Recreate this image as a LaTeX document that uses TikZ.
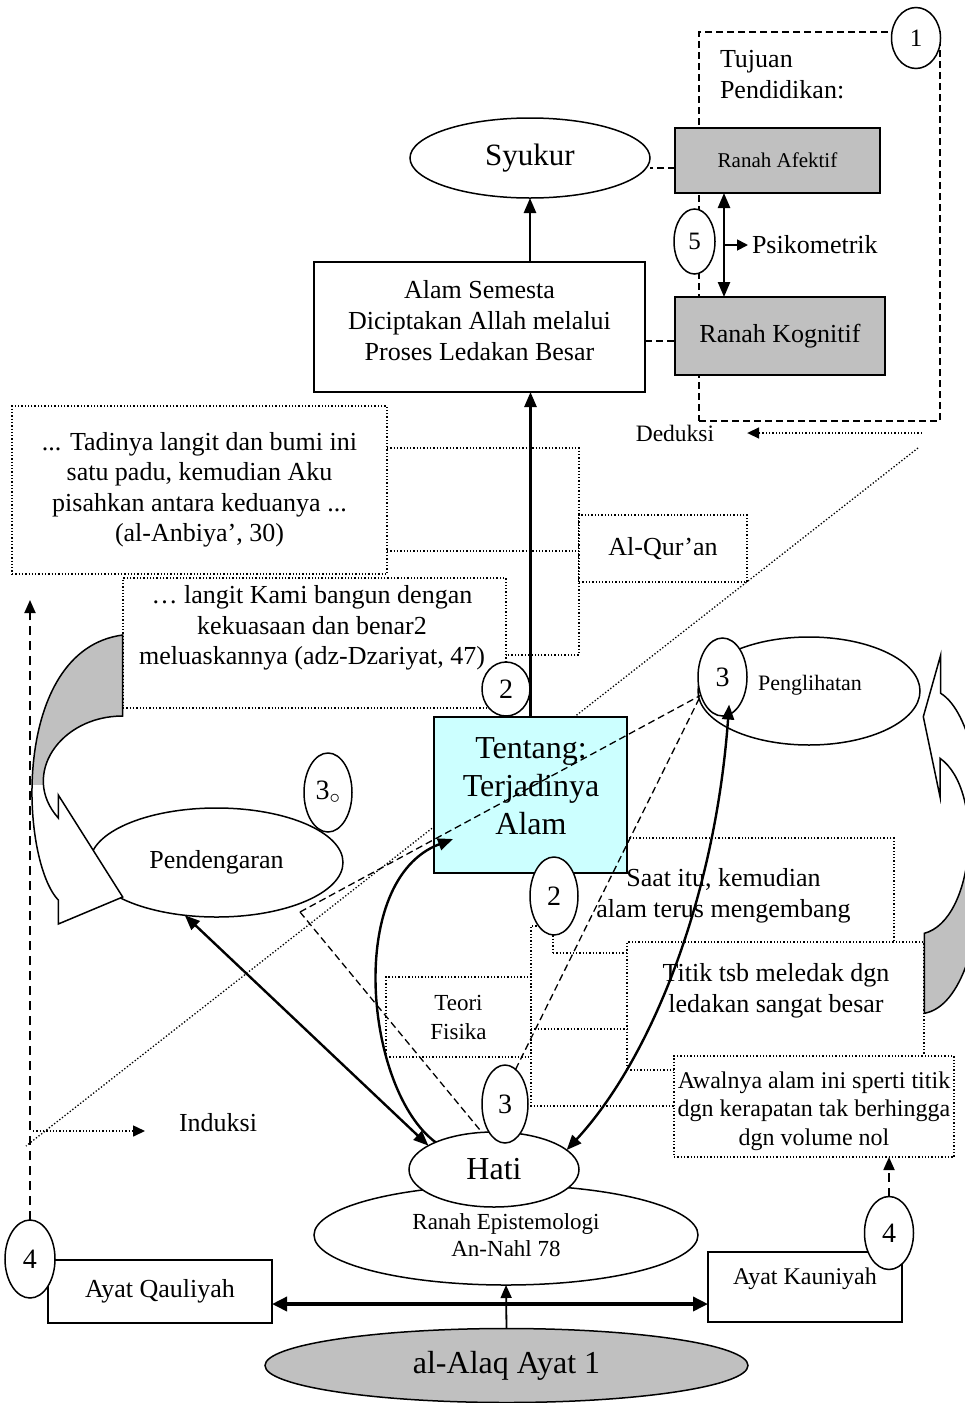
\documentclass[tikz,border=0pt]{standalone}
\usepackage{fontspec}
\setmainfont{Liberation Serif}
\usetikzlibrary{shapes.geometric,arrows.meta,calc}
\newcommand\fsz[2]{\fontsize{#1}{#2}\selectfont}
\definecolor{boxgray}{HTML}{C0C0C0}
\definecolor{lcyan}{HTML}{CCFFFF}
\begin{document}
\begin{tikzpicture}[x=1pt,y=-1pt,
  every node/.style={outer sep=0pt},
  sbox/.style={draw, line width=1.5pt, fill=white, inner sep=0pt},
  dbox/.style={draw, line width=1.3pt, dash pattern=on 1.3pt off 2pt, fill=white, inner sep=0pt, align=center},
  ell/.style={draw, ellipse, line width=1.5pt, fill=white, inner sep=0pt},
  numc/.style={ell, font=\fsz{28}{30}},
  txt/.style={inner sep=0pt, align=center},
  thickarr/.style={line width=2.6pt, -{Triangle[length=15pt,width=12pt]}},
  dblarr/.style={line width=2.4pt, {Triangle[length=15pt,width=12pt]}-{Triangle[length=15pt,width=12pt]}},
  dashln/.style={line width=1.3pt, dash pattern=on 7pt off 4pt},
  dotln/.style={line width=1.3pt, dash pattern=on 1.3pt off 2pt},
  curvearr/.style={draw, line width=1.5pt, line join=miter}
]
\useasboundingbox (0,0) rectangle (965,1403);
\clip (0,0) rectangle (965,1403);

% long diagonal dotted line
\coordinate (diagA) at (918,448);
\coordinate (diagB) at (26,1146);
\draw[dotln] (diagA) -- (diagB);

% quotation boxes
\node[dbox, minimum width=375, minimum height=168, font=\fsz{26}{30.5}] (boxA) at (199.5,490) {... Tadinya langit dan bumi ini\\satu padu, kemudian Aku\\pisahkan antara keduanya ...\\(al-Anbiya’, 30)};
\node[dbox, minimum width=383, minimum height=130] (boxB) at (314.5,643) {};
\node[txt, font=\fsz{26}{30.5}] (boxBtxt) at (312,628) {… langit Kami bangun dengan\\kekuasaan dan benar2\\meluaskannya (adz-Dzariyat, 47)};
\coordinate (bx) at (579,0);
\coordinate (q1) at (0,448);
\coordinate (q2) at (0,551);
\coordinate (q3) at (0,655);
\draw[dotln] (boxA.east |- q1) -- (bx |- q1) -- (bx |- q3) -- (boxB.east |- q3);
\draw[dotln] (boxA.east |- q2) -- (bx |- q2);
\node[dbox, minimum width=168, minimum height=67, font=\fsz{26}{30}] (quran) at (663,548.5) {Al-Qur’an};

% Tujuan frame
\node[draw, line width=1.5pt, dash pattern=on 7pt off 4pt, minimum width=241, minimum height=389, inner sep=0pt] (frame) at (819.5,226.5) {};
\node[txt, anchor=base west, font=\fsz{26}{30}] (tuj1) at (720,67) {Tujuan};
\node[txt, anchor=base west, font=\fsz{26}{30}] (tuj2) at (720,98) {Pendidikan:};
\node[numc, font=\fsz{25}{27}, minimum width=49, minimum height=61] (c1) at (916,38) {1};

\node[sbox, fill=boxgray, minimum width=205, minimum height=65, font=\fsz{21}{24}] (afektif) at (777.5,160.5) {Ranah Afektif};
\node[sbox, fill=boxgray, minimum width=210, minimum height=78, font=\fsz{26}{30}] (kognitif) at (780,336) {Ranah Kognitif};
\draw[dblarr] ([xshift=49pt]afektif.south west) -- ([xshift=49pt]kognitif.north west);
\coordinate (psk) at (724,245);
\node[txt, anchor=west, font=\fsz{26}{30}] (psiko) at (752,245) {Psikometrik};
\draw[line width=1.8pt, -{Triangle[length=11pt,width=11pt]}] (psk) -- ([xshift=-4pt]psiko.west);
\node[numc, font=\fsz{25}{27}, minimum width=41, minimum height=65] (c5) at (694.5,241.5) {5};

% Syukur / Alam
\node[ell, minimum width=240, minimum height=80, font=\fsz{31}{34}] (syukur) at (530,158) {Syukur};
\coordinate (ya) at (0,168);
\draw[dashln, line width=1.6pt] (afektif.west |- ya) -- (syukur.east |- ya);
\node[sbox, minimum width=331, minimum height=130] (alam) at (479.5,327) {};
\node[txt, font=\fsz{26}{31}] (alamtxt) at (479.5,321) {Alam Semesta\\Diciptakan Allah melalui\\Proses Ledakan Besar};
\coordinate (yk) at (0,341);
\draw[dashln, line width=1.6pt] (alam.east |- yk) -- (kognitif.west |- yk);
\draw[thickarr] (syukur.south |- alam.north) -- (syukur.south);

% Deduksi
\node[txt, font=\fsz{23.5}{26}] (deduksi) at (675,433) {Deduksi};
\coordinate (dedstart) at (922,433);
\draw[dotln, line width=1.6pt, -{Triangle[length=12pt,width=11pt]}] (dedstart) -- ([xshift=33pt]deduksi.east);

% right-side boxes
\node[dbox, minimum width=341, minimum height=115, font=\fsz{26}{31}] (boxC) at (723.5,895.5) {Saat itu, kemudian\\alam terus mengembang};
\node[sbox, fill=lcyan, minimum width=193, minimum height=156] (tentang) at (530.5,795) {};
\node[txt, font=\fsz{32}{38}] (tentangtxt) at (531,786) {Tentang:\\Terjadinya\\Alam};
\node[dbox, minimum width=297, minimum height=128] (boxD) at (775.5,1006) {};
\node[txt, font=\fsz{26}{31}] (boxDtxt) at (776,991) {Titik tsb meledak dgn\\ledakan sangat besar};
\node[dbox, minimum width=280, minimum height=101] (boxE) at (814,1106.5) {};
\node[txt, font=\fsz{24}{28.5}] (boxEtxt) at (814,1111) {Awalnya alam ini sperti titik\\dgn kerapatan tak berhingga\\dgn volume nol};
\node[dbox, minimum width=145, minimum height=80, font=\fsz{23}{29}] (teori) at (458.5,1017) {Teori\\Fisika};
\coordinate (t1) at (531,926);
\coordinate (t2) at (531,1029);
\coordinate (t3) at (531,1106);
\draw[dotln] (boxC.west |- t1) -- (t1) -- (t3) -- (boxE.west |- t3);
\draw[dotln] (t2) -- (boxD.west |- t2);

% Penglihatan / Pendengaran
\node[ell, minimum width=222, minimum height=108] (pengl) at (809,691) {};
\node[txt, font=\fsz{22}{24}] (pengltxt) at (810,685) {Penglihatan};
\node[ell, minimum width=253, minimum height=109, font=\fsz{26}{30}] (pend) at (216.5,862.5) {Pendengaran};

% left curved arrow
\path[fill=white] (122.7,635) .. controls (10,650) and (20,860) .. (58.3,900) -- (58.3,924) -- (122.7,897) -- (58.3,795) -- (58.3,818) .. controls (20,775) and (60,716) .. (122.7,716) -- cycle;
\begin{scope}
\clip (0,600) rectangle (125,784);
\fill[boxgray] (122.7,635) .. controls (10,650) and (20,860) .. (58.3,900) -- (58.3,924) -- (122.7,897) -- (58.3,795) -- (58.3,818) .. controls (20,775) and (60,716) .. (122.7,716) -- cycle;
\end{scope}
\draw[curvearr] (122.7,635) .. controls (10,650) and (20,860) .. (58.3,900) -- (58.3,924) -- (122.7,897) -- (58.3,795) -- (58.3,818) .. controls (20,775) and (60,716) .. (122.7,716) -- cycle;

% right curved arrow
\path[fill=white] (940.7,655) -- (940.7,693.3) .. controls (1000,730) and (1000,1000) .. (924.3,1013.3) -- (924.3,933.3) .. controls (975,920) and (985,790) .. (940,758.3) -- (940,796.7) -- (923.3,716.7) -- cycle;
\begin{scope}
\clip (900,868) rectangle (1000,1020);
\fill[boxgray] (940.7,655) -- (940.7,693.3) .. controls (1000,730) and (1000,1000) .. (924.3,1013.3) -- (924.3,933.3) .. controls (975,920) and (985,790) .. (940,758.3) -- (940,796.7) -- (923.3,716.7) -- cycle;
\end{scope}
\draw[curvearr] (940.7,655) -- (940.7,693.3) .. controls (1000,730) and (1000,1000) .. (924.3,1013.3) -- (924.3,933.3) .. controls (975,920) and (985,790) .. (940,758.3) -- (940,796.7) -- (923.3,716.7) -- cycle;

% Epistemologi / Hati
\node[ell, minimum width=384, minimum height=100, font=\fsz{23}{27}, align=center] (episteme) at (506,1235) {Ranah Epistemologi\\An-Nahl 78};
\node[ell, minimum width=170, minimum height=75, font=\fsz{32}{34}] (hati) at (494,1169.5) {Hati};

% numbered circles
\node[numc, minimum width=48, minimum height=54] (c2top) at (506,689) {2};
\node[numc, minimum width=48, minimum height=78] (c2bot) at (554,896) {2};
\node[numc, minimum width=46, minimum height=78] (c3bot) at (505,1104) {3};
\node[numc, minimum width=49, minimum height=78] (c3pen) at (722.5,677) {3};
\node[numc, minimum width=48, minimum height=79] (c3pend) at (328,792.5) {3$_{\circ}$};

% main vertical arrow
\draw[thickarr] (tentang.north) -- (tentang.north |- alam.south);

% dashed lines
\coordinate (dj) at (300,912);
\draw[dashln] (dj) -- (c3pen.220);
\draw[dashln] (c3bot.73) -- (c3pen.220);
\draw[dashln] (dj) -- (hati.108);

% curved solid arrows
\draw[thickarr, line width=2.4pt] (hati.155) .. controls (365,1090) and (345,880) .. ($(tentang.west)+(19,44)$);
\draw[dblarr] (pend.-121) -- (hati.160);
\draw[dblarr] (hati.15) .. controls (650,1060) and (715,900) .. ($(c3pen.-80)+(0,-10)$);

% bottom
\node[sbox, minimum width=224, minimum height=63, font=\fsz{26}{30}] (qaul) at (160,1291.5) {Ayat Qauliyah};
\node[sbox, minimum width=194, minimum height=70] (kaun) at (805,1287) {};
\node[txt, font=\fsz{24}{28}] (kauntxt) at (805,1279) {Ayat Kauniyah};
\node[ell, fill=boxgray, minimum width=483, minimum height=74, font=\fsz{32}{34}] (alaq) at (506.5,1365.5) {al-Alaq Ayat 1};
\coordinate (hy) at (0,1304);
\draw[line width=3.5pt, {Triangle[length=15pt,width=14pt]}-{Triangle[length=15pt,width=14pt]}] (qaul.east |- hy) -- (kaun.west |- hy);
\draw[line width=1.8pt, -{Triangle[length=13pt,width=11pt]}] (alaq.north) -- (episteme.south);
\node[numc, minimum width=50, minimum height=78] (c4L) at (30,1259) {4};
\node[numc, minimum width=49, minimum height=73] (c4R) at (889,1233) {4};
\coordinate (leftup) at (30,600);
\draw[line width=1.8pt, dash pattern=on 9pt off 6pt, -{Triangle[length=13pt,width=11pt]}] (c4L.north) -- (leftup);
\draw[line width=1.8pt, dash pattern=on 9pt off 6pt, -{Triangle[length=13pt,width=11pt]}] (c4R.north) -- (c4R.north |- boxE.south);

% Induksi
\node[txt, font=\fsz{26}{30}] (induksi) at (218,1123) {Induksi};
\coordinate (indstart) at (33,1131);
\coordinate (indtip) at (145,1131);
\draw[dotln, line width=1.6pt, -{Triangle[length=12pt,width=11pt]}] (indstart) -- (indtip);
\end{tikzpicture}
\end{document}
